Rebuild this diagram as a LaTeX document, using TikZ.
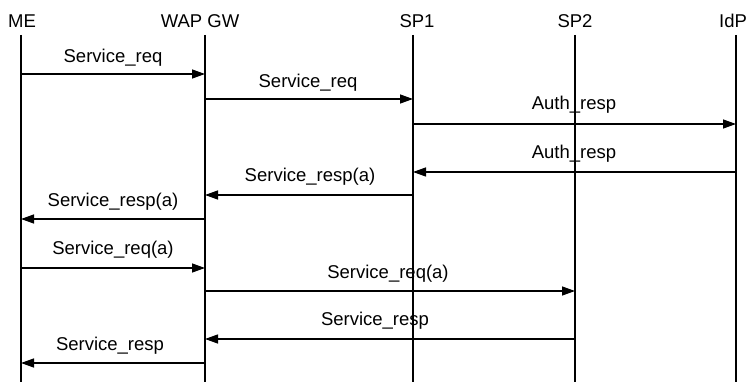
\documentclass[tikz,border=0pt]{standalone}
\usepackage{fontspec}
\setmainfont{Liberation Sans}
\usetikzlibrary{arrows.meta}
\begin{document}
\begin{tikzpicture}[x=1pt,y=-1pt,
  lifeline/.style={line width=1.6pt},
  msg/.style={line width=1.3pt,-{Triangle[length=13pt,width=9pt]}},
  txt/.style={anchor=base,inner sep=0pt,font=\fontsize{18.5}{20}\selectfont}]
\useasboundingbox (0,0) rectangle (752,382);

% participants
\node[txt] (hME)  at (22,28)  {ME};
\node[txt] (hGW)  at (200,28) {WAP GW};
\node[txt] (hSP1) at (417,28) {SP1};
\node[txt] (hSP2) at (575,28) {SP2};
\node[txt] (hIdP) at (733,28) {IdP};

% lifeline tops
\coordinate (me)  at (21,35);
\coordinate (gw)  at (205,35);
\coordinate (sp1) at (413,35);
\coordinate (sp2) at (575,35);
\coordinate (idp) at (736,35);

\foreach \p in {me,gw,sp1,sp2,idp}
  \draw[lifeline] (\p) -- (\p |- 0,382);

% messages
\draw[msg] (me |- 0,74)   -- (gw |- 0,74);
\node[txt] (m1) at (113,63) {Service\_req};

\draw[msg] (gw |- 0,99)   -- (sp1 |- 0,99);
\node[txt] (m2) at (308,88) {Service\_req};

\draw[msg] (sp1 |- 0,124) -- (idp |- 0,124);
\node[txt] (m3) at (574,110) {Auth\_resp};

\draw[msg] (idp |- 0,172) -- (sp1 |- 0,172);
\node[txt] (m4) at (574,159) {Auth\_resp};

\draw[msg] (sp1 |- 0,195) -- (gw |- 0,195);
\node[txt] (m5) at (310,182) {Service\_resp(a)};

\draw[msg] (gw |- 0,219)  -- (me |- 0,219);
\node[txt] (m6) at (113,207) {Service\_resp(a)};

\draw[msg] (me |- 0,268)  -- (gw |- 0,268);
\node[txt] (m7) at (113,254) {Service\_req(a)};

\draw[msg] (gw |- 0,291)  -- (sp2 |- 0,291);
\node[txt] (m8) at (388,278) {Service\_req(a)};

\draw[msg] (sp2 |- 0,339) -- (gw |- 0,339);
\node[txt] (m9) at (375,325) {Service\_resp};

\draw[msg] (gw |- 0,363)  -- (me |- 0,363);
\node[txt] (m10) at (110,350) {Service\_resp};
\end{tikzpicture}
\end{document}
